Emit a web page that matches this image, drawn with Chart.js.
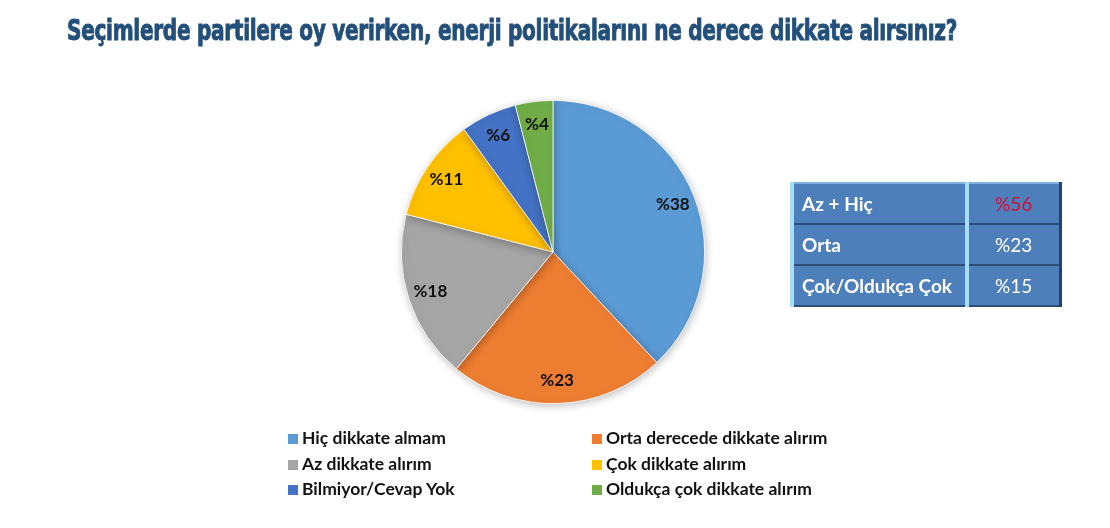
<!DOCTYPE html>
<html>
<head>
<meta charset="utf-8">
<script src="https://cdn.jsdelivr.net/npm/chart.js@4.4.0/dist/chart.umd.min.js"></script>
<style>
html,body{margin:0;padding:0;background:#fff;}
#wrap{position:relative;width:1110px;height:528px;overflow:hidden;}
#c{position:absolute;left:0;top:0;}
#title{position:absolute;left:67px;top:16px;margin:0;line-height:1;font-family:"Liberation Sans Narrow","DejaVu Sans Condensed","Liberation Sans",sans-serif;font-weight:bold;font-size:29px;color:#234f7b;-webkit-text-stroke:0.9px #234f7b;white-space:nowrap;transform-origin:0 0;letter-spacing:-0.4px;}
#tbl{position:absolute;left:790px;top:182px;border-collapse:collapse;font-family:Lato,"Open Sans",sans-serif;font-size:19px;color:#fff;}
#tbl td{background:#4d7fbb;height:35px;padding:0;border-left:4px solid #a9dcf5;border-top:2px solid #7fb0de;border-right:3px solid #24436b;border-bottom:2px solid #2c4f7a;box-sizing:border-box;}
#tbl td.k{width:175px;font-weight:bold;padding-left:8px;}
#tbl td.v{width:93px;text-align:center;}
#tbl tr{height:41px;}
#legend{position:absolute;left:288px;top:428px;font-family:Lato,"Open Sans",sans-serif;font-weight:bold;font-size:17.5px;color:#111;}
.li{position:absolute;white-space:nowrap;height:20px;line-height:20px;}
.sw{display:inline-block;width:10px;height:10px;margin-right:4px;vertical-align:0px;}
</style>
</head>
<body>
<div id="wrap">
<canvas id="c" width="1110" height="528"></canvas>
<h1 id="title">Seçimlerde partilere oy verirken, enerji politikalarını ne derece dikkate alırsınız?</h1>
<table id="tbl"></table>
<div id="legend"></div>
</div>
<script>
const categories = ["Hiç dikkate almam","Orta derecede dikkate alırım","Az dikkate alırım","Çok dikkate alırım","Bilmiyor/Cevap Yok","Oldukça çok dikkate alırım"];
const values = [38,23,18,11,6,4];
const colors = ["#5b9bd5","#ed7d31","#a5a5a5","#ffc000","#4472c4","#70ad47"];
const summaryLabels = ["Az + Hiç","Orta","Çok/Oldukça Çok"];
const summaryValues = [56,23,15];
const summaryColors = ["#d0103a","#ffffff","#ffffff"];

// fit title width
const t = document.getElementById('title');
const tw = t.getBoundingClientRect().width;
t.style.transform = 'scaleX(' + (890/tw) + ')';

// table
const tbl = document.getElementById('tbl');
summaryLabels.forEach((l,i)=>{
  const tr = document.createElement('tr');
  const a = document.createElement('td'); a.className='k'; a.textContent=l;
  const b = document.createElement('td'); b.className='v'; b.textContent='%'+summaryValues[i]; b.style.color=summaryColors[i];
  tr.appendChild(a); tr.appendChild(b); tbl.appendChild(tr);
});

const labelPlugin = {
  id:'sliceLabels',
  afterDatasetsDraw(chart){
    const ctx = chart.ctx;
    const meta = chart.getDatasetMeta(0);
    ctx.save();
    ctx.font = 'bold 17px Lato, "Open Sans", sans-serif';
    ctx.fillStyle = '#111';
    ctx.textAlign='center'; ctx.textBaseline='middle';
    meta.data.forEach((arc,i)=>{
      const p = arc.getProps(['x','y','startAngle','endAngle','outerRadius']);
      const a = (p.startAngle+p.endAngle)/2;
      const r = p.outerRadius*0.85;
      ctx.fillText('%'+values[i], p.x+Math.cos(a)*r, p.y+Math.sin(a)*r);
    });
    ctx.restore();
  }
};
const shadowPlugin = {
  id:'pieShadow',
  beforeDatasetsDraw(chart){
    const ctx=chart.ctx; ctx.save();
    ctx.shadowColor='rgba(0,0,0,0.25)'; ctx.shadowBlur=8; ctx.shadowOffsetX=1; ctx.shadowOffsetY=2;
  },
  afterDatasetsDraw(chart){ chart.ctx.restore(); }
};

const chart = new Chart(document.getElementById('c'),{
  type:'pie',
  data:{labels:categories,datasets:[{data:values,backgroundColor:colors,borderColor:'#ffffff',borderWidth:0.8}]},
  options:{
    responsive:false,animation:false,
    layout:{padding:{top:100,bottom:124,left:401,right:405}},
    plugins:{legend:{display:false},tooltip:{enabled:false},title:{display:false}}
  },
  plugins:[shadowPlugin,labelPlugin]
});

// legend built from chart data (two columns)
const lg = document.getElementById('legend');
chart.data.labels.forEach((l,i)=>{
  const d = document.createElement('div'); d.className='li';
  d.style.left = (i%2 ? 304 : 0)+'px';
  d.style.top = (Math.floor(i/2)*25.5)+'px';
  const s = document.createElement('span'); s.className='sw'; s.style.background=chart.data.datasets[0].backgroundColor[i];
  d.appendChild(s); d.appendChild(document.createTextNode(l));
  lg.appendChild(d);
});
</script>
</body>
</html>
